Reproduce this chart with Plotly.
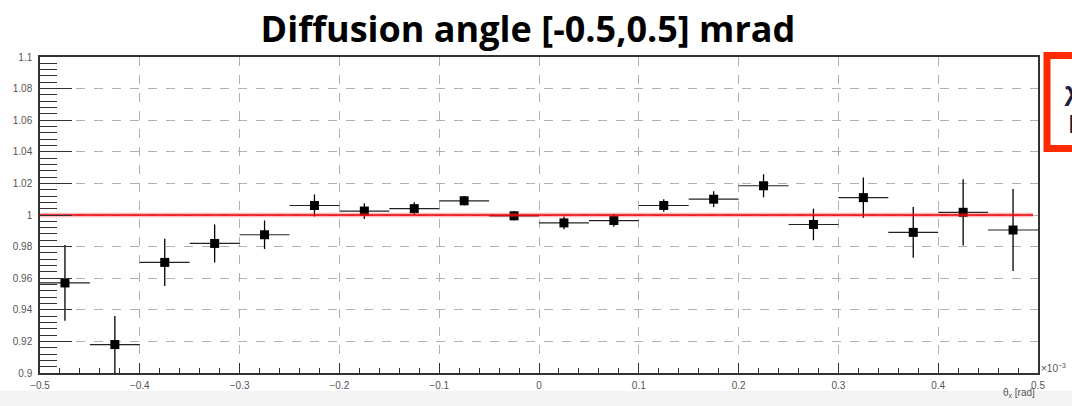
import plotly.graph_objects as go

# ---- data ----
bin_centers = [-0.475, -0.425, -0.375, -0.325, -0.275, -0.225, -0.175, -0.125, -0.075, -0.025,
               0.025, 0.075, 0.125, 0.175, 0.225, 0.275, 0.325, 0.375, 0.425, 0.475]
ratio = [0.957, 0.918, 0.970, 0.982, 0.9875, 1.006, 1.0025, 1.004, 1.009, 0.9995,
         0.995, 0.9965, 1.006, 1.010, 1.0185, 0.994, 1.011, 0.989, 1.0017, 0.9905]
ratio_err = [0.024, 0.018, 0.015, 0.012, 0.009, 0.007, 0.005, 0.004, 0.003, 0.003,
             0.004, 0.004, 0.004, 0.005, 0.0073, 0.010, 0.0128, 0.016, 0.021, 0.026]
bin_half_width = [0.025] * 20

fit_x = [-0.5, 0.495]
fit_y = [1.0, 1.0]

y_tickvals = [0.9, 0.92, 0.94, 0.96, 0.98, 1.0, 1.02, 1.04, 1.06, 1.08, 1.1]
y_ticktext = ["0.9", "0.92", "0.94", "0.96", "0.98", "1", "1.02", "1.04", "1.06", "1.08", "1.1"]
x_tickvals = [-0.5, -0.4, -0.3, -0.2, -0.1, 0, 0.1, 0.2, 0.3, 0.4, 0.5]
x_ticktext = ["\u22120.5", "\u22120.4", "\u22120.3", "\u22120.2", "\u22120.1", "0", "0.1", "0.2", "0.3", "0.4", "0.5"]

title_text = "Diffusion angle [-0.5,0.5] mrad"

W, H = 1072, 406
L, R, T, B = 40, 34, 57, 33

fig = go.Figure()

fig.add_trace(go.Scatter(
    x=bin_centers, y=ratio, mode="markers",
    marker=dict(symbol="square", size=9, color="black"),
    error_y=dict(type="data", array=ratio_err, color="black", thickness=1.3, width=0),
    error_x=dict(type="data", array=bin_half_width, color="#222222", thickness=1.2, width=0),
    showlegend=False, cliponaxis=True,
))

# fit line (glow + core)
fig.add_trace(go.Scatter(x=fit_x, y=fit_y, mode="lines",
                         line=dict(color="rgba(255,60,60,0.35)", width=4.5),
                         showlegend=False, hoverinfo="skip"))
fig.add_trace(go.Scatter(x=fit_x, y=fit_y, mode="lines",
                         line=dict(color="rgb(240,0,0)", width=1.6),
                         showlegend=False, hoverinfo="skip"))

axis_font = dict(family="Liberation Sans, Arial, sans-serif", size=10, color="#555555")

fig.update_xaxes(
    range=[-0.5, 0.5], tickmode="array", tickvals=x_tickvals, ticktext=x_ticktext,
    ticks="inside", ticklen=10, tickwidth=1.2, tickcolor="#333333",
    minor=dict(dtick=0.02, tick0=-0.5, ticks="inside", ticklen=5, tickwidth=1.2,
               tickcolor="#333333", showgrid=False),
    showgrid=True, gridcolor="#b0b0b0", griddash="dash", gridwidth=1,
    showline=True, linecolor="#333333", linewidth=1.5, mirror=True,
    zeroline=False, tickfont=axis_font, ticklabelstandoff=2, automargin=False,
)
fig.update_yaxes(
    range=[0.9, 1.1], tickmode="array", tickvals=y_tickvals, ticktext=y_ticktext,
    ticks="inside", ticklen=32, tickwidth=1.2, tickcolor="#333333",
    minor=dict(dtick=0.004, tick0=0.9, ticks="inside", ticklen=17, tickwidth=1.2,
               tickcolor="#333333", showgrid=False),
    showgrid=True, gridcolor="#b0b0b0", griddash="dash", gridwidth=1,
    showline=True, linecolor="#333333", linewidth=1.5, mirror=True,
    zeroline=False, tickfont=axis_font, ticklabelstandoff=4, automargin=False,
)

pw = W - L - R
ph = H - T - B

def px_x(p):
    return (p - L) / pw

def px_y(p):
    return (H - B - p) / ph

shapes = [
    # light grey footer band
    dict(type="rect", xref="paper", yref="paper", x0=px_x(-5), x1=px_x(W + 5),
         y0=px_y(H + 5), y1=px_y(391), fillcolor="#f3f3f3", line=dict(width=0), layer="below"),
    # red stats box (cut off at right)
    dict(type="rect", xref="paper", yref="paper", x0=px_x(1047), x1=px_x(W + 20),
         y0=px_y(148.5), y1=px_y(55.5), fillcolor="white",
         line=dict(color="#ff2a00", width=7), layer="above"),
]

annotations = [
    dict(text="\u03c7\u00b2/ndf", xref="paper", yref="paper", x=px_x(1062), y=px_y(90),
         xanchor="left", yanchor="middle", showarrow=False,
         font=dict(family="Open Sans, sans-serif", size=25, color="#1c1c3c", weight="bold")),
    dict(text="Prob", xref="paper", yref="paper", x=px_x(1066), y=px_y(123),
         xanchor="left", yanchor="middle", showarrow=False,
         font=dict(family="Open Sans, sans-serif", size=25, color="#1c1c3c", weight="bold")),
    dict(text="\u00d710<sup>\u22123</sup>", xref="paper", yref="paper", x=px_x(1039), y=px_y(368),
         xanchor="left", yanchor="middle", showarrow=False,
         font=dict(family="Liberation Sans, Arial, sans-serif", size=10, color="#555555")),
    dict(text="\u03b8<sub>x</sub> [rad]", xref="paper", yref="paper", x=px_x(1037), y=px_y(393),
         xanchor="right", yanchor="middle", showarrow=False,
         font=dict(family="Liberation Sans, Arial, sans-serif", size=10, color="#555555")),
]

fig.update_layout(
    width=W, height=H,
    margin=dict(l=L, r=R, t=T, b=B),
    paper_bgcolor="white", plot_bgcolor="white",
    title=dict(text="<b>" + title_text + "</b>", x=0.4925, xanchor="center",
               y=1 - 29 / H, yanchor="middle",
               font=dict(family="Open Sans, sans-serif", size=36, color="black")),
    shapes=shapes, annotations=annotations,
)

fig.write_html("out.html", config={"displayModeBar": False},
               post_script="document.body.style.margin='0';document.body.style.padding='0';")
